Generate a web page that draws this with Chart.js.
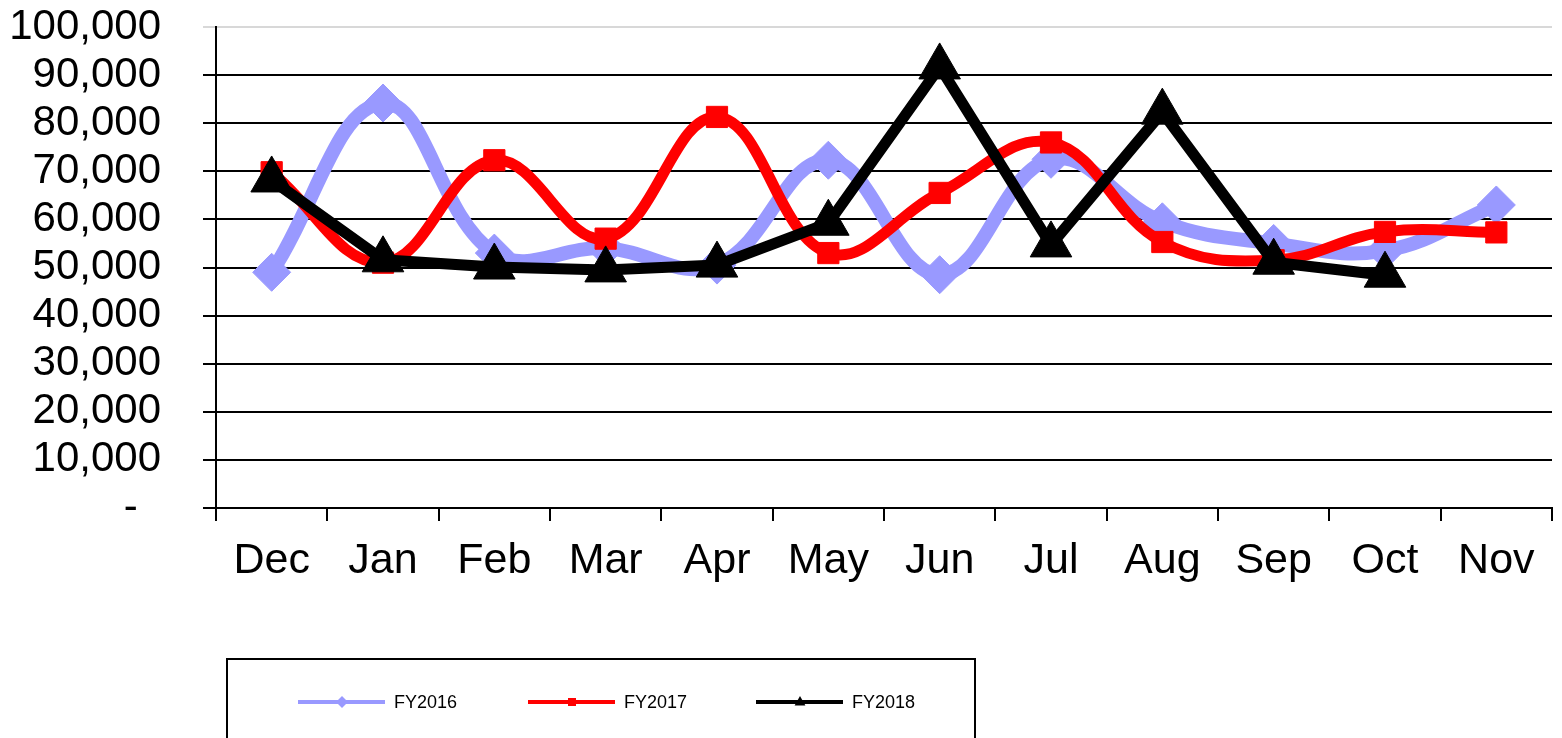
<!DOCTYPE html>
<html>
<head>
<meta charset="utf-8">
<script src="https://cdn.jsdelivr.net/npm/chart.js@4"></script>
<style>
  html, body { margin: 0; padding: 0; background: #fff; }
  #wrap { width: 1562px; height: 738px; position: relative; }
</style>
</head>
<body>
<div id="wrap"><canvas id="c" width="1562" height="738"></canvas></div>
<script>
const categories = ['Dec', 'Jan', 'Feb', 'Mar', 'Apr', 'May', 'Jun', 'Jul', 'Aug', 'Sep', 'Oct', 'Nov'];
const fy2016 = [49000, 84200, 53000, 54000, 50500, 72300, 48500, 72500, 59500, 55000, 53500, 63000];
const fy2017 = [69800, 51000, 72300, 56000, 81300, 53000, 65500, 76000, 55300, 51500, 57400, 57300];
const fy2018 = [68200, 51600, 50100, 49500, 50500, 59200, 91700, 54700, 82300, 51100, 48400, null];
const seriesNames = ['FY2016', 'FY2017', 'FY2018'];
const yTicks = { min: 0, max: 100000, step: 10000 };

const FONT = "'Liberation Sans', Arial, sans-serif";
const BLUE = '#9999FF', RED = '#FF0000', BLACK = '#000000';

function drawMarker(ctx, style, x, y, r, color) {
  ctx.save();
  ctx.fillStyle = color;
  ctx.beginPath();
  if (style === 'rectRot') {
    ctx.moveTo(x, y - r); ctx.lineTo(x + r, y); ctx.lineTo(x, y + r); ctx.lineTo(x - r, y);
  } else if (style === 'rect') {
    ctx.rect(x - r * 0.8, y - r * 0.8, r * 1.6, r * 1.6);
  } else {
    ctx.moveTo(x, y - r); ctx.lineTo(x + r * 0.9, y + r * 0.6); ctx.lineTo(x - r * 0.9, y + r * 0.6);
  }
  ctx.closePath();
  ctx.fill();
  ctx.restore();
}

const legendPlugin = {
  id: 'boxLegend',
  afterDraw(chart) {
    const ctx = chart.ctx;
    ctx.save();
    ctx.strokeStyle = '#000';
    ctx.lineWidth = 2;
    ctx.strokeRect(227, 659, 748, 90);
    const items = [
      { x: 298, color: BLUE, style: 'rectRot', r: 6 },
      { x: 528, color: RED, style: 'rect', r: 5 },
      { x: 756, color: BLACK, style: 'triangle', r: 6 }
    ];
    const y = 702;
    items.forEach((it, i) => {
      ctx.strokeStyle = it.color;
      ctx.lineWidth = 4;
      ctx.beginPath();
      ctx.moveTo(it.x, y);
      ctx.lineTo(it.x + 87, y);
      ctx.stroke();
      drawMarker(ctx, it.style, it.x + 44, y, it.r, it.color);
      ctx.fillStyle = '#000';
      ctx.font = '18px ' + FONT;
      ctx.textBaseline = 'middle';
      ctx.textAlign = 'left';
      ctx.fillText(seriesNames[i], it.x + 96, y + 1);
    });
    ctx.restore();
  }
};

new Chart(document.getElementById('c'), {
  type: 'line',
  data: {
    labels: categories,
    datasets: [
      {
        label: seriesNames[0], data: fy2016, order: 2,
        borderColor: BLUE, backgroundColor: BLUE, borderWidth: 14,
        tension: 0.4, pointStyle: 'rectRot', pointRadius: 19, pointBorderWidth: 1,
        pointHoverRadius: 19,
        pointBackgroundColor: BLUE, pointBorderColor: BLUE, clip: false
      },
      {
        label: seriesNames[1], data: fy2017, order: 1,
        borderColor: RED, backgroundColor: RED, borderWidth: 11,
        tension: 0.4, pointStyle: 'rect', pointRadius: 15, pointBorderWidth: 1,
        pointHoverRadius: 15,
        pointBackgroundColor: RED, pointBorderColor: RED, clip: false
      },
      {
        label: seriesNames[2], data: fy2018, order: 0,
        borderColor: BLACK, backgroundColor: BLACK, borderWidth: 11,
        tension: 0, pointStyle: 'triangle', pointRadius: 24, pointBorderWidth: 1,
        pointHoverRadius: 24,
        pointBackgroundColor: BLACK, pointBorderColor: BLACK, spanGaps: false, clip: false
      }
    ]
  },
  options: {
    responsive: false,
    animation: false,
    devicePixelRatio: 1,
    layout: { autoPadding: false, padding: { left: 0, right: 10, top: 0, bottom: 0 } },
    plugins: { legend: { display: false }, tooltip: { enabled: false } },
    scales: {
      x: {
        offset: true,
        afterFit(scale) { scale.height = 230; },
        grid: { offset: true, drawOnChartArea: false, drawTicks: true, tickLength: 13, color: '#000', lineWidth: 2 },
        border: { display: true, color: '#000', width: 2 },
        ticks: { color: '#000', font: { family: FONT, size: 43 }, padding: 14, maxRotation: 0, autoSkip: false }
      },
      y: {
        min: yTicks.min, max: yTicks.max,
        afterFit(scale) { scale.width = 216; scale.paddingTop = 27; scale.paddingBottom = 0; },
        grid: {
          color: (c) => (c.tick && c.tick.value === yTicks.max) ? '#d8d8d8' : '#000',
          lineWidth: 2, tickLength: 13, drawTicks: true
        },
        border: { display: true, color: '#000', width: 2 },
        ticks: {
          stepSize: yTicks.step, color: '#000', padding: 42, autoSkip: false,
          font: { family: FONT, size: 42 },
          callback: (v) => v === 0 ? '-  ' : v.toLocaleString('en-US')
        }
      }
    }
  },
  plugins: [legendPlugin]
});
</script>
</body>
</html>
